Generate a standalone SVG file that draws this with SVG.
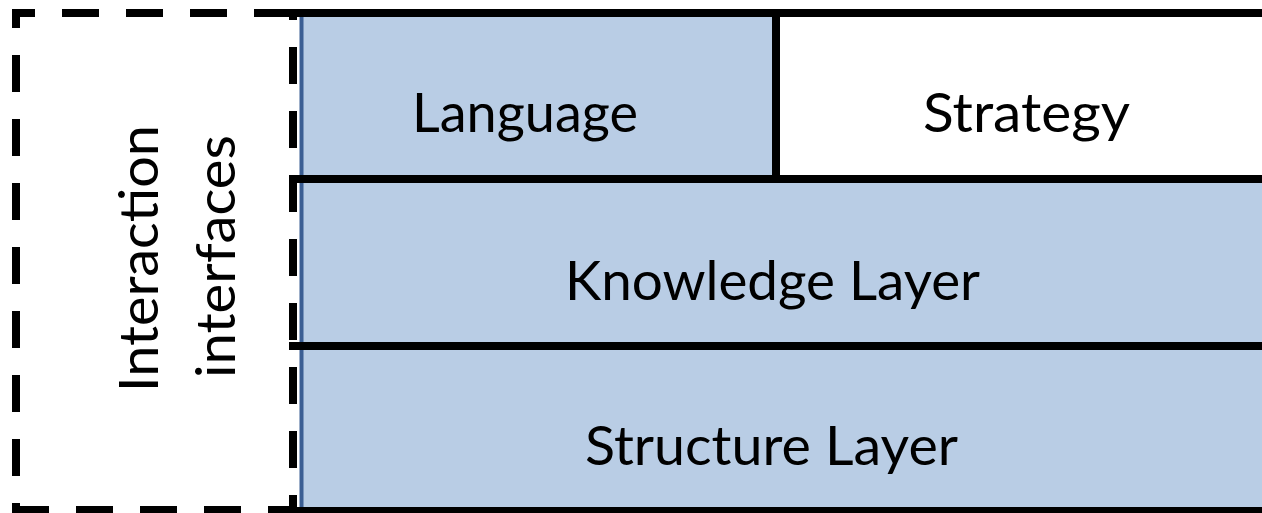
<svg xmlns="http://www.w3.org/2000/svg" width="1262" height="513" viewBox="0 0 1262 513">
<style>
.lbl{font-family:Lato,"Open Sans","Liberation Sans",sans-serif;font-size:54px;fill:#000;text-anchor:middle}
.blk{stroke:#000;stroke-width:8;fill:none}
.dash{stroke:#000;stroke-width:8;fill:none;stroke-dasharray:37 27}
.blue{fill:#B9CDE5}
</style>
<rect width="1262" height="513" fill="#fff"/>
<g id="language">
<rect class="blue" x="300" y="16" width="476" height="163"/>
<text class="lbl" x="525" y="132" textLength="226" lengthAdjust="spacingAndGlyphs">Language</text>
</g>
<g id="strategy">
<rect x="776" y="16" width="486" height="163" fill="#fff"/>
<text class="lbl" x="1026.5" y="132" textLength="207" lengthAdjust="spacingAndGlyphs">Strategy</text>
</g>
<g id="knowledge-layer">
<rect class="blue" x="300" y="179" width="962" height="167"/>
<text class="lbl" x="772.5" y="300" textLength="415" lengthAdjust="spacingAndGlyphs">Knowledge Layer</text>
</g>
<g id="structure-layer">
<rect class="blue" x="300" y="346" width="962" height="163"/>
<text class="lbl" x="771.5" y="465" textLength="373" lengthAdjust="spacingAndGlyphs">Structure Layer</text>
</g>
<g id="frame">
<line x1="301.5" y1="16" x2="301.5" y2="509" stroke="#3B5E93" stroke-width="4"/>
<line class="blk" x1="289" y1="13" x2="1262" y2="13"/>
<line class="blk" x1="776" y1="9" x2="776" y2="183"/>
<line class="blk" x1="289" y1="179" x2="1262" y2="179"/>
<line class="blk" x1="289" y1="346" x2="1262" y2="346"/>
<line class="blk" x1="289" y1="511" x2="1262" y2="511"/>
</g>
<g id="interaction-interfaces">
<line class="dash" x1="12" y1="13" x2="297" y2="13" stroke-dashoffset="14"/>
<line class="dash" x1="16" y1="9" x2="16" y2="513" stroke-dashoffset="18"/>
<line class="dash" x1="293" y1="9" x2="293" y2="513" stroke-dashoffset="26"/>
<line class="dash" x1="12" y1="510" x2="297" y2="510"/>
<text class="lbl" transform="translate(158,258.5) rotate(-90)" textLength="267" lengthAdjust="spacingAndGlyphs">Interaction</text>
<text class="lbl" transform="translate(235,256.5) rotate(-90)" textLength="243" lengthAdjust="spacingAndGlyphs">interfaces</text>
</g>
<g id="connectors"/>
</svg>
